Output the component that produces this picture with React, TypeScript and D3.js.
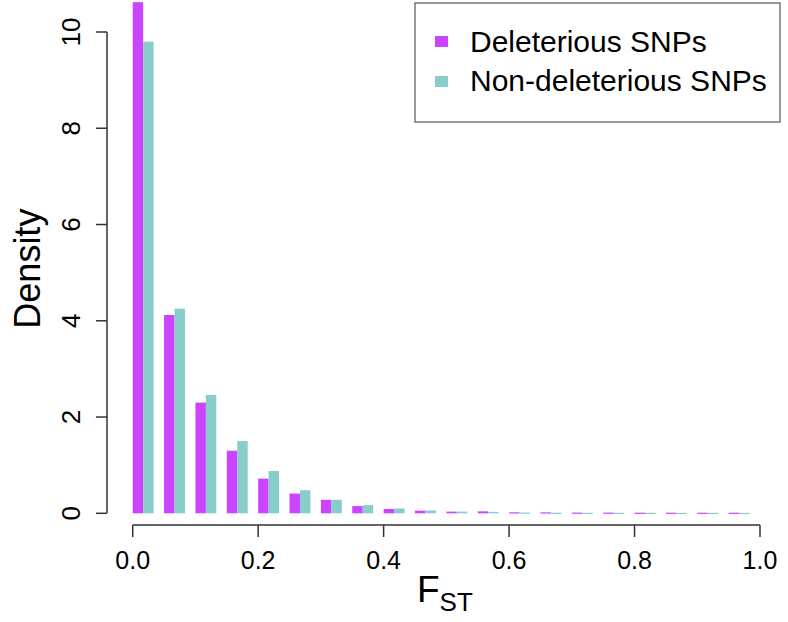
import React from "react";
import * as d3 from "d3";

const binStarts = [0, 0.05, 0.1, 0.15, 0.2, 0.25, 0.3, 0.35, 0.4, 0.45, 0.5, 0.55, 0.6, 0.65, 0.7, 0.75, 0.8, 0.85, 0.9, 0.95];
const deleterious = [10.62, 4.12, 2.3, 1.3, 0.72, 0.41, 0.28, 0.15, 0.09, 0.055, 0.035, 0.04, 0.02, 0.02, 0.015, 0.015, 0.013, 0.013, 0.012, 0.012];
const nonDeleterious = [9.8, 4.25, 2.46, 1.5, 0.88, 0.48, 0.28, 0.17, 0.1, 0.06, 0.035, 0.03, 0.015, 0.012, 0.01, 0.01, 0.01, 0.009, 0.009, 0.009];
const xTicks = [0, 0.2, 0.4, 0.6, 0.8, 1.0];
const yTicks = [0, 2, 4, 6, 8, 10];
const seriesNames = ["Deleterious SNPs", "Non-deleterious SNPs"];
const seriesColors = ["#CC44FF", "#88CCCC"];

export default function App() {
  const W = 788, H = 622;
  const x = d3.scaleLinear().domain([0, 1]).range([132.7, 760]);
  const y = d3.scaleLinear().domain([0, 10]).range([513.3, 32]);
  const binW = x(0.05) - x(0);
  const barW = binW / 3;
  const font = "'Liberation Sans', Arial, Helvetica, sans-serif";
  const axisY = 525;
  const axisX = 107;
  const series = [deleterious, nonDeleterious];

  return (
    <svg width={W} height={H} style={{ position: "absolute", left: 0, top: 0, background: "#fff" }} fontFamily={font}>
      {series.map((vals, s) =>
        vals.map((v, i) => (
          <rect
            key={`${s}-${i}`}
            x={x(binStarts[i]) + s * barW}
            y={y(v)}
            width={barW}
            height={Math.max(y(0) - y(v), 1.2)}
            fill={seriesColors[s]}
          />
        ))
      )}
      {/* y axis */}
      <line x1={axisX} x2={axisX} y1={y(0)} y2={y(10)} stroke="#333" strokeWidth={1.5} />
      {yTicks.map((t) => (
        <g key={t}>
          <line x1={axisX - 11} x2={axisX} y1={y(t)} y2={y(t)} stroke="#333" strokeWidth={1.5} />
          <text
            transform={`translate(${axisX - 27},${y(t)}) rotate(-90)`}
            textAnchor="middle"
            fontSize={26}
            fill="#000"
          >
            {t}
          </text>
        </g>
      ))}
      {/* x axis */}
      <line x1={x(0)} x2={x(1)} y1={axisY} y2={axisY} stroke="#333" strokeWidth={1.5} />
      {xTicks.map((t) => (
        <g key={t}>
          <line x1={x(t)} x2={x(t)} y1={axisY} y2={axisY + 12} stroke="#333" strokeWidth={1.5} />
          <text x={x(t)} y={axisY + 44} textAnchor="middle" fontSize={25} fill="#000">
            {t.toFixed(1)}
          </text>
        </g>
      ))}
      {/* axis titles */}
      <text transform={`translate(40,${(y(0) + y(10)) / 2 - 4}) rotate(-90)`} textAnchor="middle" fontSize={36} fill="#000">
        Density
      </text>
      <text x={417} y={602} fontSize={37} fill="#000">
        F<tspan fontSize={26} dy={9}>ST</tspan>
      </text>
      {/* legend */}
      <rect x={415} y={3} width={365} height={119} fill="#fff" stroke="#555" strokeWidth={1.2} />
      {seriesNames.map((n, i) => (
        <g key={n}>
          <rect x={435} y={36 + i * 40} width={13} height={11} fill={seriesColors[i]} />
          <text x={470} y={52 + i * 39} fontSize={30} fill="#000">
            {n}
          </text>
        </g>
      ))}
    </svg>
  );
}
